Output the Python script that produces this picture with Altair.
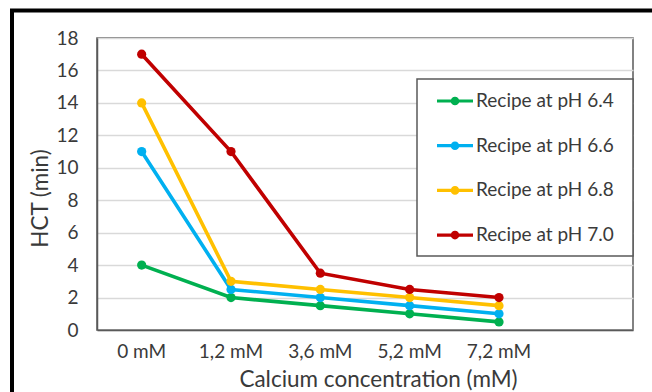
import altair as alt
import pandas as pd

# Calcium levels on the x axis (the blank slot leaves the empty band Excel keeps on the right)
categories = ["0 mM", "1,2 mM", "3,6 mM", "5,2 mM", "7,2 mM"]
x_domain = categories + [""]

series_names = ["Recipe at pH 6.4", "Recipe at pH 6.6", "Recipe at pH 6.8", "Recipe at pH 7.0"]
ph_6_4 = [4, 2, 1.5, 1, 0.5]
ph_6_6 = [11, 2.5, 2, 1.5, 1]
ph_6_8 = [14, 3, 2.5, 2, 1.5]
ph_7_0 = [17, 11, 3.5, 2.5, 2]
series_values = [ph_6_4, ph_6_6, ph_6_8, ph_7_0]
series_colors = ["#00B050", "#00B0F0", "#FFC000", "#C00000"]

y_ticks = list(range(0, 19, 2))

rows = []
for name, values in zip(series_names, series_values):
    for cat, v in zip(categories, values):
        rows.append({"calcium": cat, "hct": v, "recipe": name})
df = pd.DataFrame(rows)

FONT = "Lato"
TEXT = "#3A3A3A"
W, H = 536, 292

# line-with-dot legend glyph (unit box is scaled to sqrt(size))
legend_glyph = (
    "M-1,-0.09 L1,-0.09 L1,0.09 L-1,0.09 Z "
    "M0.24,0 A0.24,0.24 0 1,1 -0.24,0 A0.24,0.24 0 1,1 0.24,0 Z"
)

x_enc = alt.X(
    "calcium:N",
    sort=x_domain,
    scale=alt.Scale(domain=x_domain, type="band", paddingInner=0, paddingOuter=0),
    axis=alt.Axis(
        title="Calcium concentration (mM)",
        labelAngle=0,
        labelFont=FONT,
        labelFontSize=19,
        labelColor=TEXT,
        labelPadding=12,
        ticks=False,
        domainColor="#595959",
        domainWidth=1.5,
        titleFont=FONT,
        titleFontSize=22.5,
        titleFontWeight="normal",
        titleColor=TEXT,
        titleX=281,
        titleY=49,
        titleBaseline="middle",
        titleAnchor="middle",
    ),
)
y_enc = alt.Y(
    "hct:Q",
    scale=alt.Scale(domain=[0, 18], nice=False),
    axis=alt.Axis(
        title="HCT (min)",
        values=y_ticks,
        labelFont=FONT,
        labelFontSize=19,
        labelColor=TEXT,
        labelPadding=19,
        ticks=False,
        domainColor="#595959",
        domainWidth=1.5,
        gridColor="#D9D9D9",
        gridWidth=1.5,
        titleFont=FONT,
        titleFontSize=22.5,
        titleFontWeight="normal",
        titleColor=TEXT,
        titleAngle=-90,
        titleX=-57,
        titleY=160,
        titleBaseline="middle",
        titleAnchor="middle",
    ),
)
color_enc = alt.Color(
    "recipe:N",
    scale=alt.Scale(domain=series_names, range=series_colors),
    legend=alt.Legend(
        title=None,
        orient="none",
        legendX=340,
        legendY=45,
        padding=0,
        symbolType=legend_glyph,
        symbolSize=1296,
        symbolStrokeWidth=0,
        symbolOpacity=1,
        labelFont=FONT,
        labelFontSize=19,
        labelColor=TEXT,
        labelOffset=3,
        rowPadding=16.7,
        labelLimit=300,
    ),
)

base = alt.Chart(df)
lines = base.mark_line(strokeWidth=3.6).encode(x=x_enc, y=y_enc, color=color_enc)
points = base.mark_point(filled=True, size=85, opacity=1).encode(x=x_enc, y=y_enc, color=color_enc)

one = pd.DataFrame({"k": [0]})
# black outer frame around the whole figure
frame = alt.Chart(one).mark_rect(fill=None, stroke="black", strokeWidth=4).encode(
    x=alt.value(-85), x2=alt.value(700), y=alt.value(-27.5), y2=alt.value(500)
)
# white legend panel over the gridlines
legend_box = alt.Chart(one).mark_rect(fill="white", stroke="#595959", strokeWidth=1.5).encode(
    x=alt.value(320), x2=alt.value(W), y=alt.value(41), y2=alt.value(218)
)

chart = (
    alt.layer(frame, legend_box, lines, points)
    .properties(
        width=W,
        height=H,
        autosize=alt.AutoSizeParams(type="none"),
        padding={"left": 97, "top": 38, "right": 19, "bottom": 62},
        background="white",
    )
    .configure_view(stroke="#595959", strokeWidth=1.5)
)

chart.save("out.html", embed_options={"renderer": "svg", "actions": False})
